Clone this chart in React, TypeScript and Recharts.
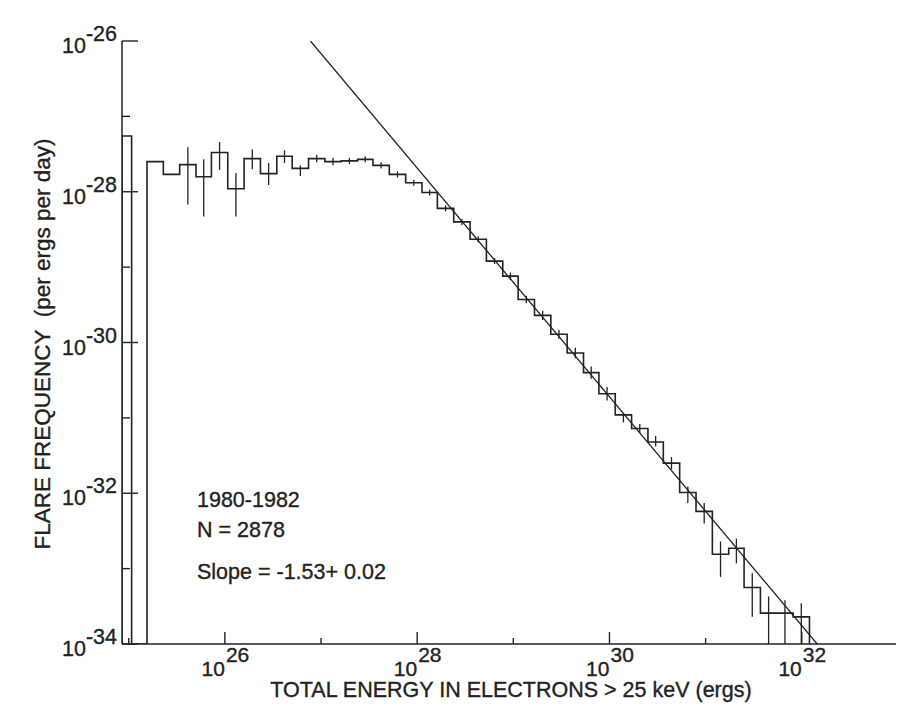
import React from "react";
import { ComposedChart, Line, Scatter, ErrorBar, XAxis, YAxis } from "recharts";

// log10 of energy (ergs): left edge of each bin, last entry is the right edge of the last bin
const binEdges = [
  24.93, 25.03, 25.19, 25.36, 25.53, 25.7, 25.86, 26.03, 26.2, 26.37, 26.54,
  26.7, 26.87, 27.04, 27.21, 27.38, 27.54, 27.71, 27.88, 28.05, 28.21, 28.38,
  28.55, 28.72, 28.89, 29.05, 29.22, 29.39, 29.56, 29.73, 29.89, 30.06, 30.23,
  30.4, 30.56, 30.73, 30.9, 31.07, 31.24, 31.4, 31.57, 31.74, 31.91, 32.08,
];

// log10 of flare frequency per bin (-34 = empty bin, drawn on the axis floor)
const binFreq = [
  -27.26, -34, -27.6, -27.77, -27.64, -27.8, -27.48, -27.96, -27.56, -27.76,
  -27.53, -27.69, -27.56, -27.6, -27.59, -27.57, -27.65, -27.77, -27.88, -28.01,
  -28.22, -28.4, -28.63, -28.92, -29.12, -29.43, -29.64, -29.89, -30.14, -30.4,
  -30.68, -30.96, -31.14, -31.32, -31.6, -31.99, -32.24, -32.81, -32.73, -33.25,
  -33.59, -33.59, -33.64,
];

// error bar ends (log10), null where none is drawn
const errLow = [
  null, null, null, null, -28.17, -28.33, -27.71, -28.33, -27.7, -27.91,
  -27.62, -27.79, -27.61, -27.65, -27.63, -27.61, -27.69, -27.81, -27.92, -28.05,
  -28.26, -28.44, -28.67, -28.96, -29.17, -29.48, -29.7, -29.95, -30.21, -30.48,
  -30.77, -31.06, -31.2, -31.38, -31.68, -32.13, -32.4, -33.11, -32.93, -33.64,
  -34, -34, -34,
];
const errHigh = [
  null, null, null, null, -27.41, -27.57, -27.34, -27.75, -27.44, -27.62,
  -27.45, -27.65, -27.51, -27.55, -27.55, -27.53, -27.61, -27.73, -27.84, -27.97,
  -28.18, -28.36, -28.59, -28.88, -29.07, -29.38, -29.58, -29.83, -30.07, -30.32,
  -30.59, -30.94, -31.08, -31.24, -31.52, -31.91, -32.13, -32.64, -32.6, -33.06,
  -33.37, -33.42, -33.46,
];

// power-law fit, slope -1.53
const fitLine = [
  { x: 26.89, y: -26 },
  { x: 32.16, y: -34 },
];

const xTicks = [25, 26, 27, 28, 29, 30, 31, 32];
const yTicks = [-34, -33, -32, -31, -30, -29, -28, -27, -26];

const INK = "#222";
const FONT = "'Liberation Sans', Arial, Helvetica, sans-serif";
const TXT = { fontFamily: FONT, fill: INK, stroke: INK, strokeWidth: 0.35 };

const stepData = [
  { x: binEdges[0], y: -34 },
  ...binFreq.map((v, i) => ({ x: binEdges[i], y: v })),
  { x: binEdges[binEdges.length - 1], y: -34 },
];

const errData = binFreq
  .map((v, i) => ({
    x: (binEdges[i] + binEdges[i + 1]) / 2,
    y: v,
    lo: errLow[i],
    hi: errHigh[i],
  }))
  .filter((d) => d.lo !== null && d.hi !== null)
  .map((d) => ({ x: d.x, y: d.y, err: [d.y - (d.lo as number), (d.hi as number) - d.y] }));

function BottomTick({ x, y, payload }: any) {
  const v = Math.round(payload.value);
  const major = v % 2 === 0;
  return (
    <g>
      <line x1={x} x2={x} y1={y} y2={y - (major ? 12 : 6)} stroke={INK} strokeWidth={1.4} />
      {major && (
        <g {...TXT} fontSize={21}>
          <text x={x} y={y + 32} textAnchor="end">10</text>
          <text x={x + 1} y={y + 18} textAnchor="start">{v}</text>
        </g>
      )}
    </g>
  );
}

function TopTick({ x, y, payload }: any) {
  const v = Math.round(payload.value);
  const major = v % 2 === 0;
  return <line x1={x} x2={x} y1={y} y2={y + (major ? 12 : 6)} stroke={INK} strokeWidth={1.4} />;
}

function LeftTick({ x, y, payload }: any) {
  const v = Math.round(payload.value);
  const major = v % 2 === 0;
  return (
    <g>
      <line x1={x} x2={x + (major ? 16 : 8)} y1={y} y2={y} stroke={INK} strokeWidth={1.4} />
      {major && (
        <text x={x - 5} y={y + 12} textAnchor="end" {...TXT} fontSize={21.5}>
          <tspan>10</tspan>
          <tspan dy={-12}>{v}</tspan>
        </text>
      )}
    </g>
  );
}

function RightTick({ x, y, payload }: any) {
  const v = Math.round(payload.value);
  const major = v % 2 === 0;
  return <line x1={x} x2={x - (major ? 16 : 8)} y1={y} y2={y} stroke={INK} strokeWidth={1.4} />;
}

export default function App() {
  const W = 890;
  const H = 700;
  return (
    <div style={{ position: "relative", width: W, height: H, background: "#fff" }}>
      <ComposedChart width={W} height={H} margin={{ top: 33, right: 2, bottom: 0, left: 0 }}>
        <XAxis
          xAxisId="b"
          type="number"
          dataKey="x"
          domain={[24.93, 32.98]}
          allowDataOverflow
          ticks={xTicks}
          tickSize={0}
          tickMargin={0}
          tickLine={false}
          tick={<BottomTick />}
          height={64}
          axisLine={{ stroke: INK, strokeWidth: 1.5 }}
        />
        <XAxis
          xAxisId="t"
          orientation="top"
          type="number"
          dataKey="x"
          domain={[24.93, 32.98]}
          allowDataOverflow
          ticks={xTicks}
          tickSize={0}
          tickMargin={0}
          tickLine={false}
          tick={<TopTick />}
          height={0}
          axisLine={{ stroke: INK, strokeWidth: 1.5 }}
        />
        <YAxis
          yAxisId="l"
          type="number"
          domain={[-34, -26]}
          allowDataOverflow
          ticks={yTicks}
          tickSize={0}
          tickMargin={0}
          tickLine={false}
          tick={<LeftTick />}
          width={114}
          axisLine={{ stroke: INK, strokeWidth: 1.5 }}
        />
        <YAxis
          yAxisId="r"
          orientation="right"
          type="number"
          domain={[-34, -26]}
          allowDataOverflow
          ticks={yTicks}
          tickSize={0}
          tickMargin={0}
          tickLine={false}
          tick={<RightTick />}
          width={0}
          axisLine={{ stroke: INK, strokeWidth: 1.5 }}
        />
        <Line
          xAxisId="b"
          yAxisId="l"
          data={fitLine}
          dataKey="y"
          type="linear"
          stroke={INK}
          strokeWidth={1.3}
          dot={false}
          activeDot={false}
          isAnimationActive={false}
        />
        <Line
          xAxisId="b"
          yAxisId="l"
          data={stepData}
          dataKey="y"
          type="stepAfter"
          stroke={INK}
          strokeWidth={1.6}
          dot={false}
          activeDot={false}
          isAnimationActive={false}
        />
        <Scatter
          xAxisId="b"
          yAxisId="l"
          data={errData}
          dataKey="y"
          shape={() => <g />}
          isAnimationActive={false}
        >
          <ErrorBar dataKey="err" direction="y" width={0} stroke={INK} strokeWidth={1.3} isAnimationActive={false} />
        </Scatter>
      </ComposedChart>
      <svg
        width={W}
        height={H}
        style={{ position: "absolute", left: 0, top: 0, pointerEvents: "none" }}
        {...TXT}
      >
        <text x={189} y={499} fontSize={21.5}>1980-1982</text>
        <text x={189} y={528.5} fontSize={21.5}>N = 2878</text>
        <text x={189} y={571} fontSize={21.5}>Slope = -1.53+ 0.02</text>
        <text x={503} y={689} fontSize={21.5} textAnchor="middle">
          TOTAL ENERGY IN ELECTRONS &gt; 25 keV (ergs)
        </text>
        <text
          x={0}
          y={0}
          fontSize={22.5}
          textAnchor="middle"
          transform="translate(42, 336) rotate(-90)"
          style={{ whiteSpace: "pre" }}
        >
          {"FLARE FREQUENCY  (per ergs per day)"}
        </text>
      </svg>
    </div>
  );
}
